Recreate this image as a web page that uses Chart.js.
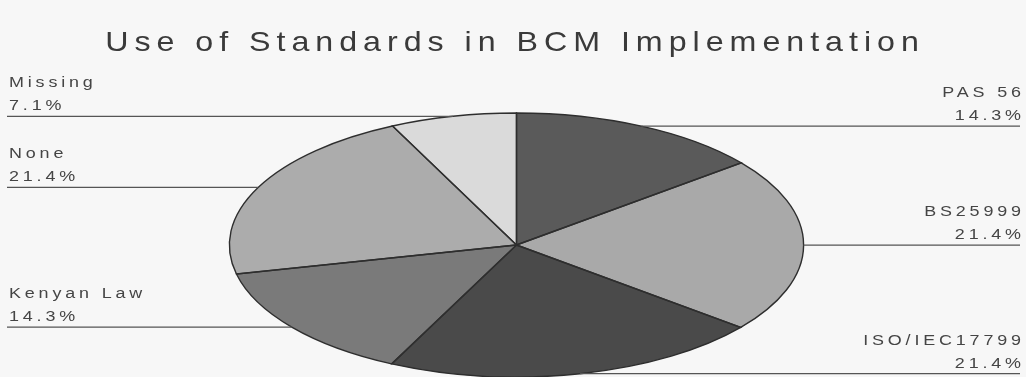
<!DOCTYPE html>
<html>
<head>
<meta charset="utf-8">
<title>Use of Standards in BCM Implementation</title>
<script src="https://cdn.jsdelivr.net/npm/chart.js@4"></script>
<style>
  html, body { margin: 0; padding: 0; background: #f7f7f7; }
  #wrap { width: 1026px; height: 377px; }
</style>
</head>
<body>
<div id="wrap"><canvas id="pie" width="1026" height="377"></canvas></div>
<script>
// categories and their shares (%), clockwise from 12 o'clock
const categories = ['PAS 56', 'BS25999', 'ISO/IEC17799', 'Kenyan Law', 'None', 'Missing'];
const shares = [14.3, 21.4, 21.4, 14.3, 21.4, 7.1];
const sliceColors = ['#5a5a5a', '#a9a9a9', '#4a4a4a', '#7a7a7a', '#acacac', '#dadada'];
const chartTitle = 'Use of Standards in BCM Implementation';

const STRETCH = 2.175;   // horizontal stretch, turns the pie into a flat ellipse
const INK = '#3a3a3a';

// scale around the pie centre so arcs are drawn as an ellipse
const stretchAround = (ctx, el) => {
    ctx.translate(el.x, el.y);
    ctx.scale(STRETCH, 1);
    ctx.translate(-el.x, -el.y);
};

// wide, letter-spaced text (sx widens the glyphs)
const spacedText = (ctx, txt, x, y, align, font, spacing, sx, color) => {
    ctx.save();
    ctx.font = font;
    ctx.letterSpacing = spacing + 'px';
    ctx.fillStyle = color;
    ctx.textBaseline = 'alphabetic';
    ctx.textAlign = 'left';
    let w = (ctx.measureText(txt).width - spacing) * sx;
    let left = align === 'right' ? x - w : (align === 'center' ? x - w / 2 : x);
    ctx.translate(left, y);
    ctx.scale(sx, 1);
    ctx.fillText(txt, 0, 0);
    ctx.restore();
};

const ellipsePlugin = {
    id: 'ellipse',
    beforeDatasetsDraw(chart) {
        const el = chart.getDatasetMeta(0).data[0];
        chart.ctx.save();
        stretchAround(chart.ctx, el);
    },
    afterDatasetsDraw(chart) {
        const ctx = chart.ctx;
        ctx.restore();
        const arcs = chart.getDatasetMeta(0).data;

        // slice outlines with an even line width
        arcs.forEach(a => {
            ctx.save();
            stretchAround(ctx, a);
            ctx.beginPath();
            ctx.moveTo(a.x, a.y);
            ctx.arc(a.x, a.y, a.outerRadius, a.startAngle, a.endAngle);
            ctx.closePath();
            ctx.restore();
            ctx.lineWidth = 1.4;
            ctx.strokeStyle = '#2e2e2e';
            ctx.stroke();
        });

        // leader lines and labels
        arcs.forEach((a, i) => {
            const mid = (a.startAngle + a.endAngle) / 2;
            const px = a.x + STRETCH * a.outerRadius * Math.cos(mid);
            const py = a.y + a.outerRadius * Math.sin(mid);
            const right = Math.cos(mid) >= -0.001;
            const edge = right ? 1020 : 7;

            ctx.save();
            ctx.beginPath();
            ctx.moveTo(px, py);
            ctx.lineTo(edge, py);
            ctx.lineWidth = 1.3;
            ctx.strokeStyle = '#555555';
            ctx.stroke();
            ctx.restore();

            const font = '14px "Liberation Sans", Arial, sans-serif';
            const tx = right ? 1021 : 9;
            const align = right ? 'right' : 'left';
            spacedText(ctx, categories[i], tx, py - 29, align, font, 3, 1.28, '#454545');
            spacedText(ctx, shares[i].toFixed(1) + '%', tx, py - 6, align, font, 3, 1.28, '#454545');
        });
    },
    afterDraw(chart) {
        spacedText(chart.ctx, chartTitle, 512, 51, 'center',
            '28px "Liberation Sans", Arial, sans-serif', 5.2, 1.15, INK);
    }
};

const graficoEstandares = () => {
    const ctx = document.getElementById('pie').getContext('2d');
    new Chart(ctx, {
        type: 'pie',
        data: {
            labels: categories,
            datasets: [{
                data: shares,
                backgroundColor: sliceColors,
                borderWidth: 0,
                clip: false
            }]
        },
        options: {
            responsive: false,
            animation: false,
            devicePixelRatio: 1,
            layout: { padding: { left: 7, right: 0, top: 113, bottom: 0 } },
            plugins: {
                legend: { display: false },
                tooltip: { enabled: false },
                title: { display: false }
            }
        },
        plugins: [ellipsePlugin]
    });
};

graficoEstandares();
</script>
</body>
</html>
